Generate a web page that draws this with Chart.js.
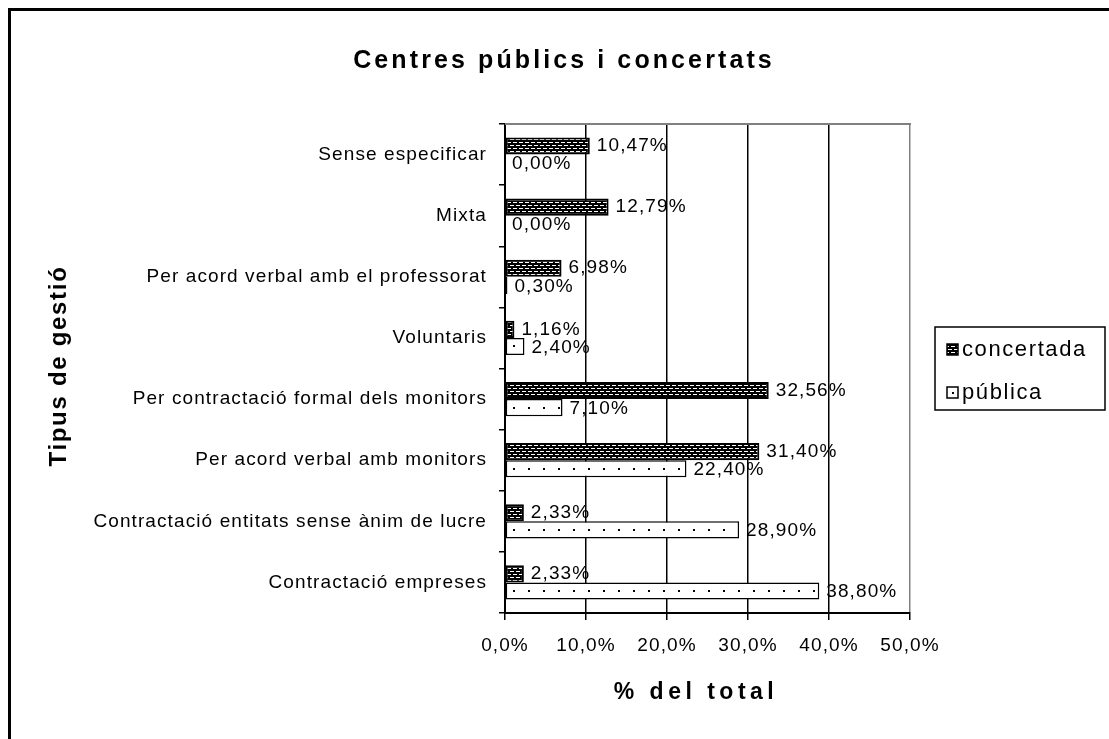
<!DOCTYPE html>
<html><head><meta charset="utf-8">
<script src="https://cdn.jsdelivr.net/npm/chart.js@4/dist/chart.umd.min.js"></script>
<style>
html,body{margin:0;padding:0;background:#fff;overflow:hidden;width:1109px;height:739px}
#frame{position:absolute;left:8px;top:8px;width:1300px;height:900px;border-left:3px solid #000;border-top:3px solid #000;box-sizing:border-box;background:#fff}
#c{position:absolute;left:0;top:0}
</style></head><body>
<div id="frame"></div>
<canvas id="c" width="1109" height="739"></canvas>
<script>
// ---- data ----
const categories = [
  'Sense especificar',
  'Mixta',
  'Per acord verbal amb el professorat',
  'Voluntaris',
  'Per contractació formal dels monitors',
  'Per acord verbal amb monitors',
  'Contractació entitats sense ànim de lucre',
  'Contractació empreses'
];
const seriesNames = ['concertada', 'pública'];
const concertada = [10.47, 12.79, 6.98, 1.16, 32.56, 31.40, 2.33, 2.33];
const publica    = [0.00, 0.00, 0.30, 2.40, 7.10, 22.40, 28.90, 38.80];
const xTickValues = [0, 10, 20, 30, 40, 50];
const chartTitle = 'Centres públics i concertats';
const yAxisTitle = 'Tipus de gestió';
const xAxisTitle = '% del total';

// ---- styles ----
const FONT = '"Liberation Sans", Arial, sans-serif';

function darkPattern() {
  const t = document.createElement('canvas'); t.width = 6; t.height = 6;
  const g = t.getContext('2d');
  g.fillStyle = '#000'; g.fillRect(0, 0, 6, 6);
  g.fillStyle = '#fff';
  g.fillRect(0, 1, 4, 1);
  g.fillRect(3, 4, 3, 1); g.fillRect(0, 4, 1, 1);
  return document.createElement('canvas').getContext('2d').createPattern(t, 'repeat');
}
const concPattern = darkPattern();

function fmtComma(v, d) { return v.toFixed(d).replace('.', ',') + '%'; }

const spacingPlugin = {
  id: 'spacing',
  beforeLayout(chart) { chart.ctx.letterSpacing = '1.1px'; },
  beforeUpdate(chart) { chart.ctx.letterSpacing = '1.1px'; }
};

const valueLabels = {
  id: 'valueLabels',
  beforeDraw(chart) {
    chart.ctx.letterSpacing = '1.1px';
    const ctx = chart.ctx;
    ctx.save();
    ctx.font = '19px ' + FONT;
    ctx.letterSpacing = '1.1px';
    ctx.fillStyle = '#000';
    ctx.textAlign = 'left';
    ctx.textBaseline = 'middle';
    chart.data.datasets.forEach((ds, i) => {
      const meta = chart.getDatasetMeta(i);
      meta.data.forEach((el, j) => {
        ctx.fillText(fmtComma(ds.data[j], 2), el.x + 7, el.y + (i === 0 ? 0 : 1));
      });
    });
    ctx.restore();
  }
};

const decor = {
  id: 'decor',
  afterDatasetsDraw(chart) {
    const ctx = chart.ctx;
    const meta = chart.getDatasetMeta(1);
    ctx.save();
    ctx.fillStyle = '#000';
    meta.data.forEach(el => {
      const x0 = Math.min(el.base, el.x), x1 = Math.max(el.base, el.x);
      for (let x = x0 + 7; x < x1 - 3; x += 15) {
        ctx.fillRect(Math.round(x), Math.round(el.y) - 1, 2, 2);
      }
    });
    ctx.restore();
  },
  afterDraw(chart) {
    const ctx = chart.ctx;
    const a = chart.chartArea;
    ctx.save();
    ctx.strokeStyle = '#808080';
    ctx.lineWidth = 2;
    ctx.beginPath(); ctx.moveTo(a.left, a.top); ctx.lineTo(a.right + 1, a.top); ctx.stroke();

    ctx.fillStyle = '#000';
    ctx.font = 'bold 25px ' + FONT;
    ctx.letterSpacing = '3.1px';
    ctx.textAlign = 'center';
    ctx.textBaseline = 'alphabetic';
    ctx.fillText(chartTitle, 564, 68);

    ctx.font = 'bold 23px ' + FONT;
    ctx.letterSpacing = '4.5px';
    ctx.fillText(xAxisTitle, 696, 699);

    ctx.save();
    ctx.translate(66, 366);
    ctx.rotate(-Math.PI / 2);
    ctx.font = 'bold 24px ' + FONT;
    ctx.letterSpacing = '1.7px';
    ctx.fillText(yAxisTitle, 0, 0);
    ctx.restore();

    const lx = 935, ly = 327, lw = 170, lh = 83;
    ctx.strokeStyle = '#000';
    ctx.lineWidth = 1.5;
    ctx.strokeRect(lx, ly, lw, lh);
    const rows = [350, 393];
    chart.data.datasets.forEach((ds, i) => {
      const cy = rows[i];
      ctx.fillStyle = ds.backgroundColor;
      ctx.fillRect(947, cy - 6, 11, 11);
      ctx.strokeStyle = '#000';
      ctx.lineWidth = 1.5;
      ctx.strokeRect(947, cy - 6, 11, 11);
      if (i === 1) { ctx.fillStyle = '#000'; ctx.fillRect(952, cy - 1, 2, 2); }
      ctx.fillStyle = '#000';
      ctx.font = '22px ' + FONT;
      ctx.letterSpacing = '1.6px';
      ctx.textAlign = 'left';
      ctx.textBaseline = 'alphabetic';
      ctx.fillText(ds.label, 962, cy + 6);
    });
    ctx.restore();
  }
};

new Chart(document.getElementById('c'), {
  type: 'bar',
  data: {
    labels: categories,
    datasets: [
      { label: seriesNames[0], data: concertada, backgroundColor: concPattern,
        borderColor: '#000', borderWidth: 2, borderSkipped: false },
      { label: seriesNames[1], data: publica, backgroundColor: '#fff',
        borderColor: '#000', borderWidth: 1.5, borderSkipped: false }
    ]
  },
  options: {
    indexAxis: 'y',
    responsive: false,
    animation: false,
    devicePixelRatio: 1,
    categoryPercentage: 0.56,
    barPercentage: 1,
    layout: { padding: { left: 0, top: 124, right: 199, bottom: 66 } },
    plugins: { legend: { display: false }, title: { display: false }, tooltip: { enabled: false } },
    scales: {
      x: {
        min: 0, max: 50,
        afterBuildTicks(scale) { scale.ticks = xTickValues.map(v => ({ value: v })); },
        afterFit(scale) { scale.height = 60; },
        ticks: {
          color: '#000', font: { family: FONT, size: 19 }, padding: 14,
          callback: v => fmtComma(v, 1), maxRotation: 0, autoSkip: false
        },
        grid: {
          color: c => (c.tick && c.tick.value === 50 ? '#808080' : '#000'),
          tickColor: '#000', lineWidth: 1.5, tickLength: 7, drawTicks: true
        },
        border: { color: '#000', width: 2 }
      },
      y: {
        afterFit(scale) { scale.width = 505; },
        ticks: { color: '#000', font: { family: FONT, size: 19 }, padding: 12, autoSkip: false },
        grid: { drawOnChartArea: false, drawTicks: true, tickLength: 6, color: '#000', lineWidth: 1.5, offset: true },
        border: { color: '#000', width: 2 }
      }
    }
  },
  plugins: [spacingPlugin, valueLabels, decor]
});
</script>
</body></html>
